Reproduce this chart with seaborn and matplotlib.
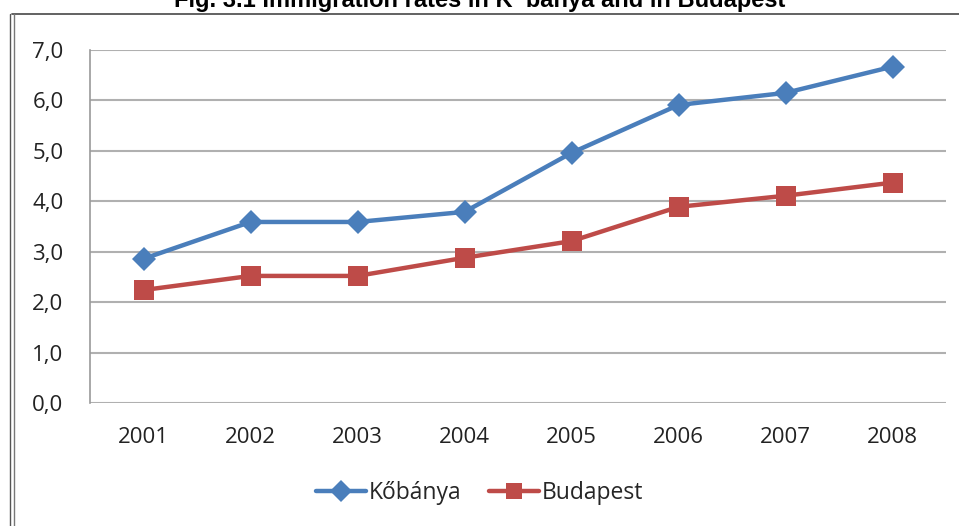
import matplotlib
matplotlib.use("Agg")
import matplotlib.pyplot as plt
import seaborn as sns
import pandas as pd
from matplotlib.lines import Line2D

years = ["2001", "2002", "2003", "2004", "2005", "2006", "2007", "2008"]
kobanya = [2.86, 3.59, 3.59, 3.79, 4.96, 5.91, 6.15, 6.67]
budapest = [2.24, 2.52, 2.52, 2.88, 3.21, 3.89, 4.11, 4.37]
series_names = ["Kőbánya", "Budapest"]
yticks = [0, 1, 2, 3, 4, 5, 6, 7]

df = pd.DataFrame({"year": years * 2,
                   "value": kobanya + budapest,
                   "series": [series_names[0]] * len(years) + [series_names[1]] * len(years)})

sns.set_theme(style="white")
plt.rcParams["font.family"] = ["Open Sans", "DejaVu Sans"]

fig = plt.figure(figsize=(9.59, 5.26), dpi=100)
fig.patch.set_facecolor("white")

ax = fig.add_axes([90 / 959, 1 - 403 / 526, (946 - 90) / 959, (403 - 50) / 526])
colors = {"Kőbánya": "#4a7ebb", "Budapest": "#be4b48"}

sns.lineplot(data=df[df.series == "Kőbánya"], x="year", y="value", color=colors["Kőbánya"],
             marker="D", linewidth=3.2, markersize=12, markeredgewidth=0, ax=ax,
             legend=False, sort=False)
sns.lineplot(data=df[df.series == "Budapest"], x="year", y="value", color=colors["Budapest"],
             marker="s", linewidth=3.2, markersize=14, markeredgewidth=0, ax=ax,
             legend=False, sort=False)

ax.set_xlim(-0.5, len(years) - 0.5)
ax.set_ylim(0, 7)
ax.set_yticks(yticks)
ax.set_yticklabels([f"{v:.1f}".replace(".", ",") for v in yticks])
ax.set_xlabel("")
ax.set_ylabel("")
ax.yaxis.grid(True, color="#b0b0b0", linewidth=1.5)
ax.xaxis.grid(False)
ax.set_axisbelow(True)
for s in ["top", "right", "bottom"]:
    ax.spines[s].set_visible(False)
ax.spines["left"].set_color("#9a9a9a")
ax.spines["left"].set_linewidth(1.2)
ax.tick_params(axis="y", labelsize=16, colors="#222222", pad=19, length=0)
ax.tick_params(axis="x", labelsize=16, colors="#222222", pad=17, length=0)
ax.set_facecolor("white")

# chart frame
fig.add_artist(Line2D([12 / 959, 1.0], [1 - 14 / 526] * 2, color="#555555", lw=1.3))
fig.add_artist(Line2D([10 / 959] * 2, [0, 1 - 14 / 526], color="#555555", lw=1.0))
fig.add_artist(Line2D([14 / 959] * 2, [0, 1 - 14 / 526], color="#777777", lw=1.0))

# title (clipped at the top edge as in the reference)
fig.text(0.5, 1.0 - 1 / 526, "Fig. 3.1 Immigration rates in K  bánya and in Budapest",
         ha="center", va="center", fontsize=17, fontweight="bold",
         family=["Liberation Sans", "DejaVu Sans"], color="black")

handles = [Line2D([], [], color=colors["Kőbánya"], marker="D", lw=3.2, markersize=11,
                  markeredgewidth=0),
           Line2D([], [], color=colors["Budapest"], marker="s", lw=3.2, markersize=12,
                  markeredgewidth=0)]
fig.legend(handles, series_names, loc="center", bbox_to_anchor=(0.5, 1 - 493 / 526),
           ncol=2, frameon=False, fontsize=16.5, handlelength=2.2, columnspacing=1.2,
           handletextpad=0.1)

fig.savefig("out.png", dpi=100, facecolor="white")
